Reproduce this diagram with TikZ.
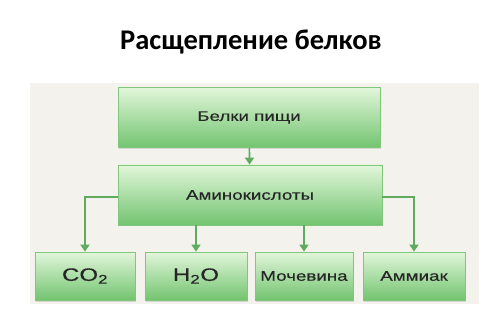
\documentclass[tikz,border=0pt]{standalone}
\usepackage{fontspec}
\setmainfont{Liberation Sans}
\newfontfamily\boxfont[FakeStretch=1.34,FakeBold=0.4]{Liberation Sans}
\newfontfamily\titlefont{Carlito}
\usetikzlibrary{arrows.meta,shadows}
\definecolor{panelgrey}{HTML}{F3F2EC}
\definecolor{boxtop}{HTML}{E2F6DA}
\definecolor{boxbottom}{HTML}{72C470}
\definecolor{boxline}{HTML}{80C67C}
\definecolor{arrowgreen}{HTML}{5FAC60}
\definecolor{textgrey}{HTML}{262626}
\tikzset{
  greenbox/.style={rectangle,draw=boxline,line width=0.8pt,top color=boxtop,bottom color=boxbottom,
    minimum height=48pt,inner sep=0pt,text=textgrey,font=\boxfont\fontsize{14}{16}\selectfont,
    drop shadow={shadow xshift=0.5pt,shadow yshift=-1.5pt,opacity=0.25}},
  flow/.style={draw=arrowgreen,line width=1.6pt,-{Triangle[width=9pt,length=7pt]}}
}
\begin{document}
\begin{tikzpicture}[x=1pt,y=-1pt]
\useasboundingbox (0,0) rectangle (500,320);
\fill[white] (0,0) rectangle (500,320);
\fill[panelgrey] (30,83) rectangle (479,304);
\node[font=\titlefont\bfseries\fontsize{28.5}{32}\selectfont] (title) at (251,42) {Расщепление белков};
\node[greenbox,minimum width=262pt,minimum height=60pt] (food) at (249,117.5) {Белки пищи};
\node[greenbox,minimum width=264pt,minimum height=60pt] (amino) at (250,195) {Аминокислоты};
\node[greenbox,minimum width=100pt,font=\boxfont\fontsize{18}{20}\selectfont] (co2) at (85,276) {CO\textsubscript{2}};
\node[greenbox,minimum width=102pt,font=\boxfont\fontsize{18}{20}\selectfont] (water) at (196,276) {H\textsubscript{2}O};
\node[greenbox,minimum width=98pt] (urea) at (304,276) {Мочевина};
\node[greenbox,minimum width=102pt] (ammonia) at (414,276) {Аммиак};
\draw[flow] (food) -- (amino);
\draw[flow] ([yshift=-2pt]amino.west) -| (co2.north);
\draw[flow] ([yshift=-2pt]amino.east) -| (ammonia.north);
\draw[flow] (water.north |- amino.south) -- (water.north);
\draw[flow] (urea.north |- amino.south) -- (urea.north);
\end{tikzpicture}
\end{document}
